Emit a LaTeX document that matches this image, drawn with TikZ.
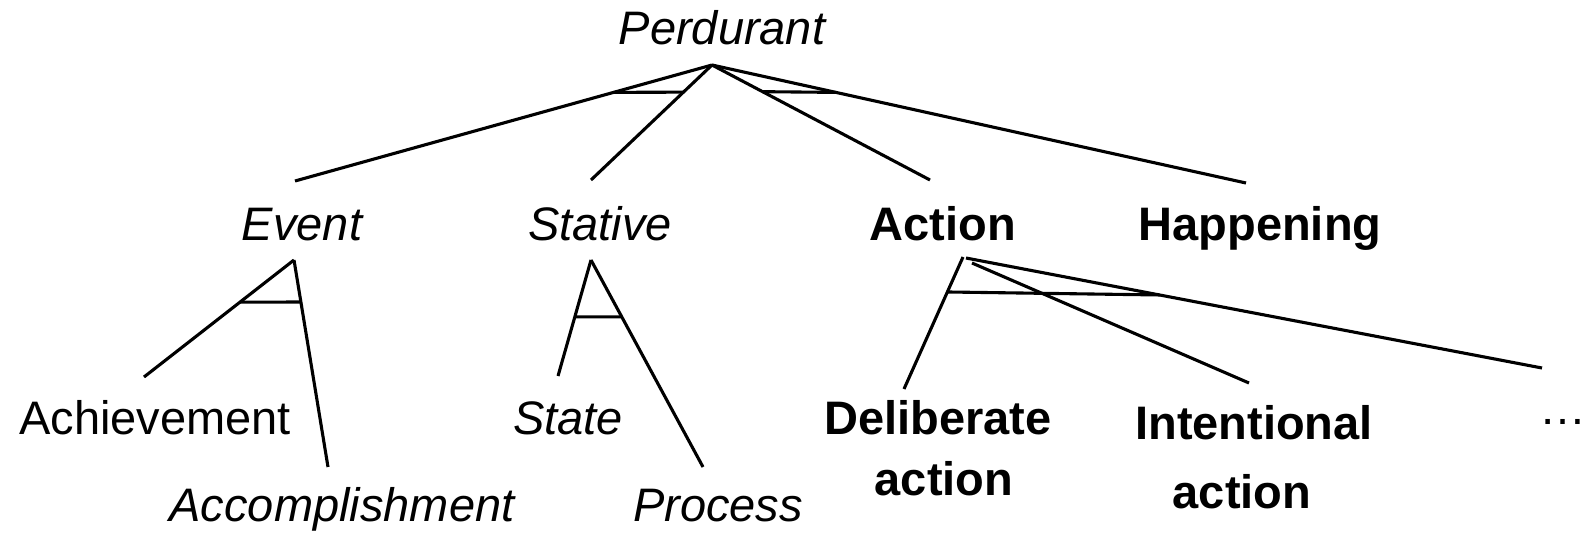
\documentclass[tikz,border=0pt]{standalone}
\usepackage{fontspec}
\setmainfont{Liberation Sans}
\usetikzlibrary{calc}
\begin{document}
\begin{tikzpicture}[x=1pt,y=-1pt,
  lbl/.style={anchor=base,inner sep=0pt,font=\fontsize{47}{61}\selectfont},
  it/.style={lbl,font=\fontsize{47}{61}\selectfont\itshape},
  bf/.style={lbl,font=\fontsize{47}{61}\selectfont\bfseries,align=center},
  link/.style={line width=3.1pt,line cap=butt}]
\useasboundingbox (0,0) rectangle (1593,533);

% category labels
\node[it] (perdurant) at (722,44) {Perdurant};
\node[it] (event) at (302,240) {Event};
\node[it] (stative) at (600,240) {Stative};
\node[bf] (action) at (943,240) {Action};
\node[bf] (happening) at (1260,240) {Happening};
\node[lbl] (achievement) at (155,434) {Achievement};
\node[it] (accomplishment) at (342,521) {Accomplishment};
\node[it] (state) at (568,434) {State};
\node[it] (process) at (718,521) {Process};
% two-line labels: the base anchor sits on the last line
\node[bf] (deliberate) at (938,495) {Deliberate\\\hspace*{12pt}action};
\node[bf] (intentional) at (1254,508) {Intentional\\[8pt]action\hspace*{24pt}};
\node[lbl] (more) at (1563,424) {…};

% branch end points
\coordinate (p-root) at (712,65);
\coordinate (p-ev) at (295,181);
\coordinate (p-st) at (591,180);
\coordinate (p-ac) at (930,180);
\coordinate (p-ha) at (1246,183);
\coordinate (e-root) at (294,260);
\coordinate (e-ach) at (144,377);
\coordinate (e-acc) at (328,467);
\coordinate (s-root) at (591,260);
\coordinate (s-st) at (558,376);
\coordinate (s-pr) at (703,467);
\coordinate (a-root1) at (963,257);
\coordinate (a-root2) at (966,258);
\coordinate (a-root3) at (972,263);
\coordinate (a-de) at (904,389);
\coordinate (a-in) at (1249,383);
\coordinate (a-more) at (1542,368);

% Perdurant
\draw[link] (p-root) -- (p-ev);
\draw[link] (p-root) -- (p-st);
\draw[link] (p-root) -- (p-ac);
\draw[link] (p-root) -- (p-ha);
\draw[link] ($(p-root)!0.236!(p-ev)$) -- ($(p-root)!0.236!(p-st)$);
\draw[link] ($(p-root)!0.232!(p-ac)$) -- ($(p-root)!0.232!(p-ha)$);

% Event
\draw[link] (e-root) -- (e-ach);
\draw[link] (e-root) -- (e-acc);
\draw[link] ($(e-root)!0.36!(e-ach)$) -- ($(e-root)!0.203!(e-acc)$);

% Stative
\draw[link] (s-root) -- (s-st);
\draw[link] (s-root) -- (s-pr);
\draw[link] ($(s-root)!0.49!(s-st)$) -- ($(s-root)!0.275!(s-pr)$);

% Action
\draw[link] (a-root1) -- (a-de);
\draw[link] (a-root3) -- (a-in);
\draw[link] (a-root2) -- (a-more);
\draw[link] ($(a-root1)!0.265!(a-de)$) -- ($(a-root2)!0.336!(a-more)$);
\end{tikzpicture}
\end{document}
